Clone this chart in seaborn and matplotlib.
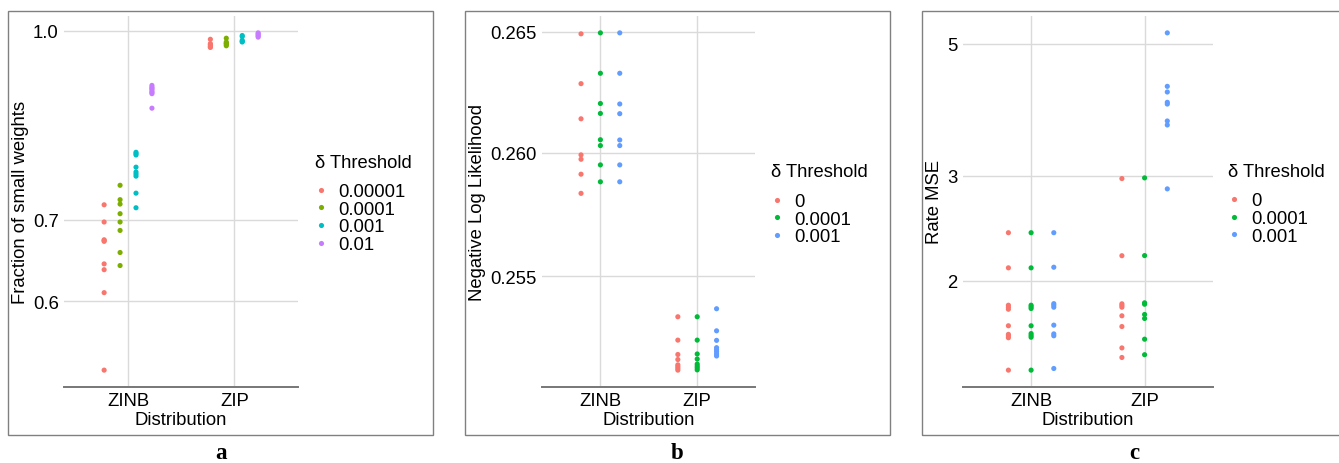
import numpy as np
import pandas as pd
import matplotlib
matplotlib.use("Agg")
import matplotlib.pyplot as plt
import seaborn as sns
from matplotlib.lines import Line2D
from matplotlib.patches import Rectangle
from matplotlib.ticker import FixedLocator, FixedFormatter, NullLocator

# ---------------- data ----------------
distributions = ["ZINB", "ZIP"]

# Panel a: fraction of small weights
a_thresholds = ["0.00001", "0.0001", "0.001", "0.01"]
a_zinb_t1 = [0.720, 0.697, 0.674, 0.673, 0.672, 0.644, 0.637, 0.610, 0.527]
a_zinb_t2 = [0.747, 0.727, 0.721, 0.708, 0.697, 0.686, 0.658, 0.642]
a_zinb_t3 = [0.795, 0.793, 0.791, 0.773, 0.766, 0.763, 0.760, 0.736, 0.716]
a_zinb_t4 = [0.902, 0.899, 0.897, 0.895, 0.892, 0.890, 0.888, 0.864]
a_zip_t1 = [0.984, 0.976, 0.974, 0.972, 0.970, 0.969]
a_zip_t2 = [0.986, 0.979, 0.977, 0.976, 0.974, 0.972]
a_zip_t3 = [0.991, 0.989, 0.982, 0.980, 0.979]
a_zip_t4 = [0.996, 0.994, 0.992, 0.990, 0.988]

# Panel b: negative log likelihood
b_thresholds = ["0", "0.0001", "0.001"]
b_zinb_t1 = [0.26492, 0.26285, 0.26140, 0.25992, 0.25974, 0.25913, 0.25835]
b_zinb_t2 = [0.26496, 0.26328, 0.26203, 0.26162, 0.26054, 0.26030, 0.25951, 0.25882]
b_zinb_t3 = [0.26496, 0.26328, 0.26201, 0.26161, 0.26053, 0.26030, 0.25951, 0.25882]
b_zip_t1 = [0.25338, 0.25245, 0.25188, 0.25168, 0.25147, 0.25140, 0.25133, 0.25126]
b_zip_t2 = [0.25338, 0.25245, 0.25190, 0.25170, 0.25150, 0.25142, 0.25135, 0.25127]
b_zip_t3 = [0.25370, 0.25282, 0.25244, 0.25215, 0.25207, 0.25199, 0.25190, 0.25182]

# Panel c: rate MSE
c_thresholds = ["0", "0.0001", "0.001"]
c_zinb_t1 = [2.408, 2.102, 1.819, 1.805, 1.791, 1.680, 1.625, 1.615, 1.604, 1.415]
c_zinb_t2 = [2.408, 2.102, 1.819, 1.808, 1.796, 1.680, 1.630, 1.618, 1.607, 1.415]
c_zinb_t3 = [2.408, 2.107, 1.830, 1.819, 1.805, 1.684, 1.628, 1.616, 1.424]
c_zip_t1 = [2.969, 2.203, 1.829, 1.817, 1.805, 1.746, 1.675, 1.542, 1.486]
c_zip_t2 = [2.977, 2.204, 1.836, 1.826, 1.755, 1.728, 1.595, 1.502]
c_zip_t3 = [5.217, 4.242, 4.150, 3.988, 3.961, 3.710, 3.653, 2.853]

a_ticks, a_ticklabels = [0.6, 0.7, 1.0], ["0.6", "0.7", "1.0"]
b_ticks, b_ticklabels = [0.255, 0.260, 0.265], ["0.255", "0.260", "0.265"]
c_ticks, c_ticklabels = [2, 3, 5], ["2", "3", "5"]

palette4 = ["#F8766D", "#7CAE00", "#00BFC4", "#C77CFF"]
palette3 = ["#F8766D", "#00BA38", "#619CFF"]


def long_form(groups, thresholds):
    rows = []
    for dist, series in zip(distributions, groups):
        for thr, vals in zip(thresholds, series):
            for v in vals:
                rows.append({"Distribution": dist, "Threshold": thr, "value": v})
    return pd.DataFrame(rows)


df_a = long_form([[a_zinb_t1, a_zinb_t2, a_zinb_t3, a_zinb_t4],
                  [a_zip_t1, a_zip_t2, a_zip_t3, a_zip_t4]], a_thresholds)
df_b = long_form([[b_zinb_t1, b_zinb_t2, b_zinb_t3],
                  [b_zip_t1, b_zip_t2, b_zip_t3]], b_thresholds)
df_c = long_form([[c_zinb_t1, c_zinb_t2, c_zinb_t3],
                  [c_zip_t1, c_zip_t2, c_zip_t3]], c_thresholds)

# ---------------- figure ----------------
plt.rcParams["font.family"] = ["Liberation Sans", "DejaVu Sans"]
W, H = 1339, 464
fig = plt.figure(figsize=(W / 100, H / 100), dpi=100)


def fx(px):
    return px / W


def fy(py):
    return 1 - py / H


def draw_panel(left, right, df, thresholds, palette, ylabel, ticks, ticklabels,
               leg_x, title_y, first_y, border_x, label_x, letter):
    top, bottom = 17, 388
    ax = fig.add_axes([fx(left), fy(bottom), fx(right - left), (bottom - top) / H])
    sns.stripplot(data=df, x="Distribution", y="value", hue="Threshold",
                  order=distributions, hue_order=thresholds, palette=palette,
                  dodge=True, jitter=False, size=3.7, linewidth=0,
                  legend=False, ax=ax, zorder=3)
    # narrower dodge (width 0.6 instead of 0.8)
    for coll in ax.collections:
        off = np.asarray(coll.get_offsets()).copy()
        if len(off):
            c = np.round(off[:, 0])
            off[:, 0] = c + (off[:, 0] - c) * 0.75
            coll.set_offsets(off)
    ax.set_yscale("log")
    lo, hi = np.log(df["value"].min()), np.log(df["value"].max())
    r = hi - lo
    ax.set_ylim(np.exp(lo - 0.05 * r), np.exp(hi + 0.05 * r))
    ax.set_xlim(-0.6, 1.6)
    ax.yaxis.set_major_locator(FixedLocator(ticks))
    ax.yaxis.set_major_formatter(FixedFormatter(ticklabels))
    ax.yaxis.set_minor_locator(NullLocator())
    ax.grid(True, color="#DADADA", linewidth=1.0)
    ax.set_axisbelow(True)
    for s in ["left", "top", "right"]:
        ax.spines[s].set_visible(False)
    ax.spines["bottom"].set_color("#777777")
    ax.spines["bottom"].set_linewidth(1.4)
    ax.tick_params(axis="both", length=0, labelsize=13.3, colors="black")
    ax.tick_params(axis="y", pad=4)
    ax.tick_params(axis="x", pad=3.5)
    ax.set_xlabel("Distribution", fontsize=13.3, labelpad=1.5)
    ax.set_ylabel(ylabel, fontsize=13.3, labelpad=3)
    ax.set_facecolor("white")

    # legend
    fig.text(fx(leg_x), fy(title_y), "δ Threshold", ha="left", va="center",
             fontsize=13.2)
    handles = [Line2D([], [], marker="o", linestyle="none", markersize=3.7,
                      markerfacecolor=col, markeredgewidth=0)
               for col in palette]
    fig.legend(handles, thresholds, loc="upper left",
               bbox_to_anchor=(fx(leg_x), fy(first_y - 6)),
               bbox_transform=fig.transFigure, frameon=False, borderpad=0,
               borderaxespad=0, handlelength=0.7, handletextpad=0.55,
               labelspacing=0.04, fontsize=13.3)

    # panel border and letter
    fig.patches.append(Rectangle((fx(border_x), fy(436)), fx(425), (436 - 11.7) / H,
                                 transform=fig.transFigure, fill=False,
                                 edgecolor="#808080", linewidth=1.0))
    fig.text(fx(label_x), fy(454), letter, ha="center", va="center",
             fontsize=16.5, fontweight="bold", family="Liberation Serif")
    return ax


draw_panel(64.3, 298, df_a, a_thresholds, palette4, "Fraction of small weights",
           a_ticks, a_ticklabels, 315, 164, 190, 8, 221, "a")
draw_panel(542.3, 755.3, df_b, b_thresholds, palette3, "Negative Log Likelihood",
           b_ticks, b_ticklabels, 770.7, 173, 200, 465, 677.3, "b")
draw_panel(963, 1212.7, df_c, c_thresholds, palette3, "Rate MSE",
           c_ticks, c_ticklabels, 1228, 173, 199.3, 922.3, 1134.3, "c")

fig.savefig("out.png", dpi=100, facecolor="white")
